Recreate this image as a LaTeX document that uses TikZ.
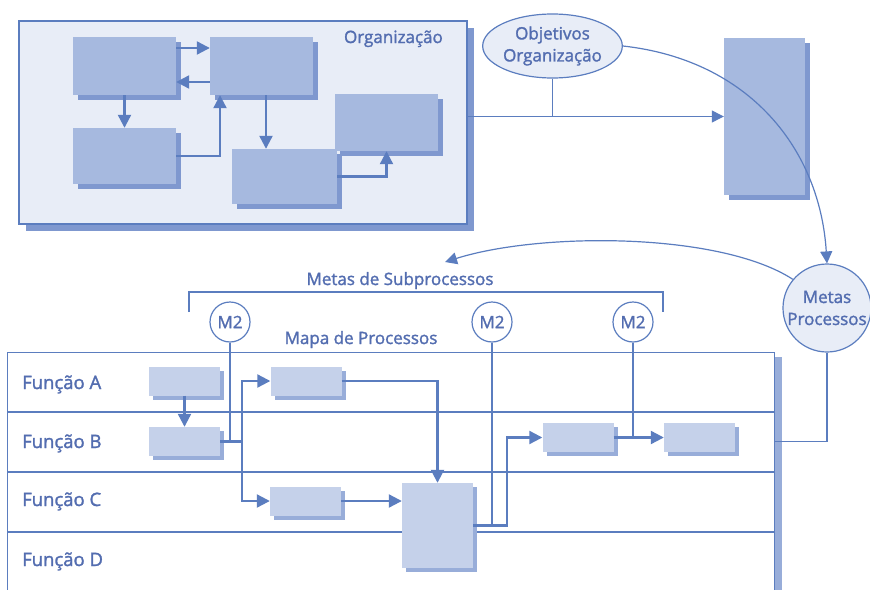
\documentclass[tikz,border=0pt]{standalone}
\usepackage{fontspec}
\setmainfont{Open Sans}[BoldFont={Open Sans},BoldFeatures={FakeBold=1.6}]
\usetikzlibrary{arrows.meta,shapes.geometric,shadows}
\definecolor{lineblue}{HTML}{5B7DBF}
\definecolor{textblue}{HTML}{536DB0}
\definecolor{boxblue}{HTML}{A6B9DF}
\definecolor{boxshade}{HTML}{7F98CF}
\definecolor{lanefill}{HTML}{C5D1EA}
\definecolor{laneshade}{HTML}{98ADD9}
\definecolor{paleblue}{HTML}{E8EDF7}

\begin{document}
\begin{tikzpicture}[x=1pt,y=-1pt,
  every node/.style={text=textblue,inner sep=0pt},
  wire/.style={draw=lineblue,line width=1.2pt},
  wirearrow/.style={wire,-{Triangle[length=12pt,width=12pt]}},
  flowarrow/.style={draw=lineblue,line width=2.2pt,-{Triangle[length=13pt,width=13pt]}},
  orgbox/.style={fill=boxblue,drop shadow={shadow xshift=5pt,shadow yshift=-5pt,fill=boxshade,opacity=1}},
  lanebox/.style={fill=lanefill,minimum width=71pt,minimum height=29pt,
    drop shadow={shadow xshift=4pt,shadow yshift=-4pt,fill=laneshade,opacity=1}},
  goal/.style={circle,draw=lineblue,line width=1.2pt,fill=white,minimum size=40pt,font=\fontsize{17}{19}\selectfont\bfseries},
  caption/.style={font=\fontsize{17}{22}\selectfont\bfseries},
  lanelabel/.style={anchor=base west,font=\fontsize{18.5}{20}\selectfont\bfseries}]
  \useasboundingbox (0,0) rectangle (870,589);

  \node[draw=lineblue,line width=1.2pt,fill=paleblue,minimum width=448pt,minimum height=203pt,
    drop shadow={shadow xshift=7pt,shadow yshift=-7pt,fill=boxshade,opacity=1}] (org) at (243,122.5) {};
  \node[caption,anchor=base east] (orglabel) at (443,43) {Organização};
  \node[orgbox,minimum width=103pt,minimum height=58pt] (o1) at (124.5,66) {};
  \node[orgbox,minimum width=103pt,minimum height=58pt] (o2) at (261.5,66) {};
  \node[orgbox,minimum width=103pt,minimum height=56pt] (o3) at (124.5,156) {};
  \node[orgbox,minimum width=105pt,minimum height=55pt] (o4) at (284.5,176.5) {};
  \node[orgbox,minimum width=103pt,minimum height=57pt] (o5) at (386.5,122.5) {};
  \node[orgbox,minimum width=81pt,minimum height=157pt] (alvo) at (764.5,116.5) {};
  \node[ellipse,draw=lineblue,line width=1.2pt,fill=paleblue,minimum width=139pt,minimum height=64pt,
    align=center,caption] (objetivos) at (552.5,46) {Objetivos\\Organização};
  \node[circle,draw=lineblue,line width=1.2pt,fill=paleblue,minimum size=88pt,
    align=center,caption] (metas) at (827,308) {Metas\\Processos};

  \draw[flowarrow] ([yshift=18pt]o1.east) -- ([yshift=18pt]o2.west);
  \draw[flowarrow] ([yshift=-16pt]o2.west) -- ([yshift=-16pt]o1.east);
  \draw[flowarrow] (o1.south) -- (o3.north);
  \draw[flowarrow] (o3.east) -| ([xshift=-41.5pt]o2.south);
  \draw[flowarrow] ([xshift=4.5pt]o2.south) -- ([xshift=4.5pt]o2.south |- o4.north);
  \draw[flowarrow] (o4.east) -| (o5.south);
  \draw[wirearrow] (org.east |- alvo.west) -- (alvo.west);
  \draw[wire] (objetivos.south) -- (objetivos.south |- alvo.west);
  \draw[wirearrow] (objetivos.east) .. controls (750,60) and (820,150) .. (metas.north);

  \coordinate (subgoal) at (445,262);
  \draw[wirearrow] (metas.140) .. controls (720,232) and (540,232) .. (subgoal);
  \node[caption,anchor=base] (sublabel) at (400,285) {Metas de Subprocessos};
  \draw[wire] (189,312) |- (663,292) -- (663,312);
  \node[goal] (m1) at (230,322) {M2};
  \node[goal] (m2) at (492,322) {M2};
  \node[goal] (m3) at (633,322) {M2};
  \node[caption,anchor=base] (mapalabel) at (361,344) {Mapa de Processos};

  \node[draw=lineblue,line width=1.2pt,fill=white,anchor=north west,minimum width=767pt,minimum height=260pt,
    drop shadow={shadow xshift=7pt,shadow yshift=-4pt,fill=laneshade,opacity=1}] (mapa) at (7,352) {};
  \foreach \y in {412,472,532}
    \draw[wire] (7,\y) -- (774,\y);
  \node[lanelabel] (fa) at (22,389) {Função A};
  \node[lanelabel] (fb) at (22,448) {Função B};
  \node[lanelabel] (fc) at (22,506) {Função C};
  \node[lanelabel] (fd) at (22,566) {Função D};

  \node[lanebox] (a1) at (184.5,381) {};
  \node[lanebox] (b1) at (184.5,441.5) {};
  \node[lanebox] (a2) at (306,381) {};
  \node[lanebox] (c1) at (305.5,501) {};
  \node[lanebox,minimum height=85pt] (big) at (437.5,525.5) {};
  \node[lanebox] (b2) at (578,437.5) {};
  \node[lanebox] (b3) at (699.5,437.5) {};

  \draw[wire] (m1.south) -- (m1.south |- b1.east);
  \draw[wire] (m2.south) -- (m2.south |- big.east);
  \draw[wire] (m3.south) -- (m3.south |- b2.east);
  \draw[wire] (metas.south) |- (mapa.east |- b1.east);

  \draw[flowarrow] (a1.south) -- (b1.north);
  \draw[flowarrow] (b1.east) -- ++(22,0) |- (a2.west);
  \draw[flowarrow] (b1.east) -- ++(22,0) |- (c1.west);
  \draw[flowarrow] (a2.east) -| (big.north);
  \draw[flowarrow] (c1.east) -- (big.west |- c1.east);
  \draw[flowarrow] (big.east) -- ++(34,0) |- (b2.west);
  \draw[flowarrow] (b2.east) -- (b3.west);
\end{tikzpicture}
\end{document}
